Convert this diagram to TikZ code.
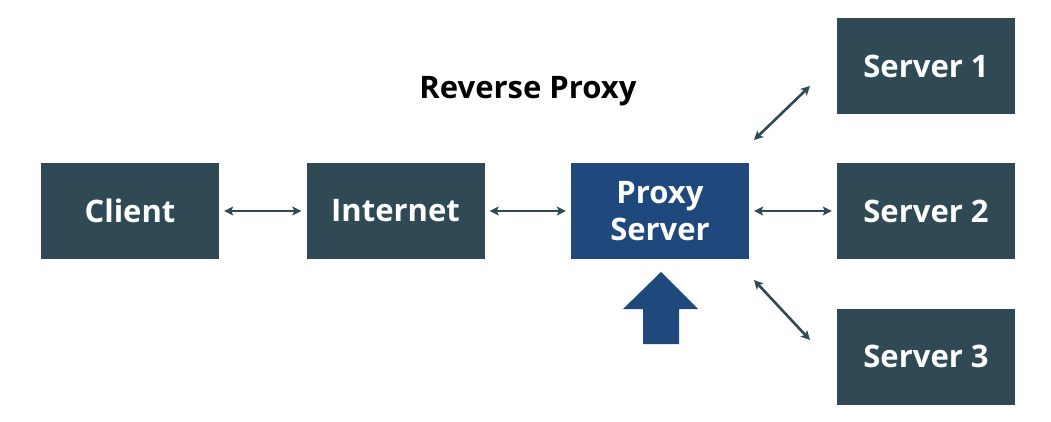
\documentclass[tikz,border=0pt]{standalone}
\usepackage{fontspec}
\setmainfont{Open Sans}
\usetikzlibrary{arrows.meta}
\definecolor{boxc}{HTML}{2F4A55}
\definecolor{proxyc}{HTML}{1F497D}
\begin{document}
\begin{tikzpicture}[x=1pt,y=-1pt,
  box/.style={fill=boxc,draw=none,minimum width=178pt,minimum height=96pt,inner sep=0pt,
    text=white,font=\bfseries\fontsize{31}{37}\selectfont,align=center},
  link/.style={draw=boxc,line width=2.6pt,{Stealth[length=9pt,width=9pt,inset=2pt]}-{Stealth[length=9pt,width=9pt,inset=2pt]}}]
\useasboundingbox (0,0) rectangle (1051,422);
\node[box] (client) at (130,211) {Client};
\node[box] (internet) at (395.5,211) {Internet};
\node[box,fill=proxyc] (proxy) at (660,211) {Proxy\\Server};
\node[box] (s1) at (926,66.5) {Server 1};
\node[box] (s2) at (926,211) {Server 2};
\node[box] (s3) at (926,356.5) {Server 3};
\node[font=\bfseries\fontsize{31}{37}\selectfont] (title) at (528,91) {Reverse Proxy};
\draw[link] ([xshift=5pt]client.east) -- ([xshift=-5pt]internet.west);
\draw[link] ([xshift=5pt]internet.east) -- ([xshift=-5pt]proxy.west);
\draw[link] ([xshift=5pt]proxy.east) -- ([xshift=-5pt]s2.west);
\coordinate (u1) at (754,140);
\coordinate (u2) at (810,86);
\coordinate (l1) at (754,280);
\coordinate (l2) at (810,340);
\draw[link] (u1) -- (u2);
\draw[link] (l1) -- (l2);
\fill[proxyc] (661,272) -- (698,309) -- (679,309) -- (679,344) -- (643,344) -- (643,309) -- (623,309) -- cycle;
\end{tikzpicture}
\end{document}
